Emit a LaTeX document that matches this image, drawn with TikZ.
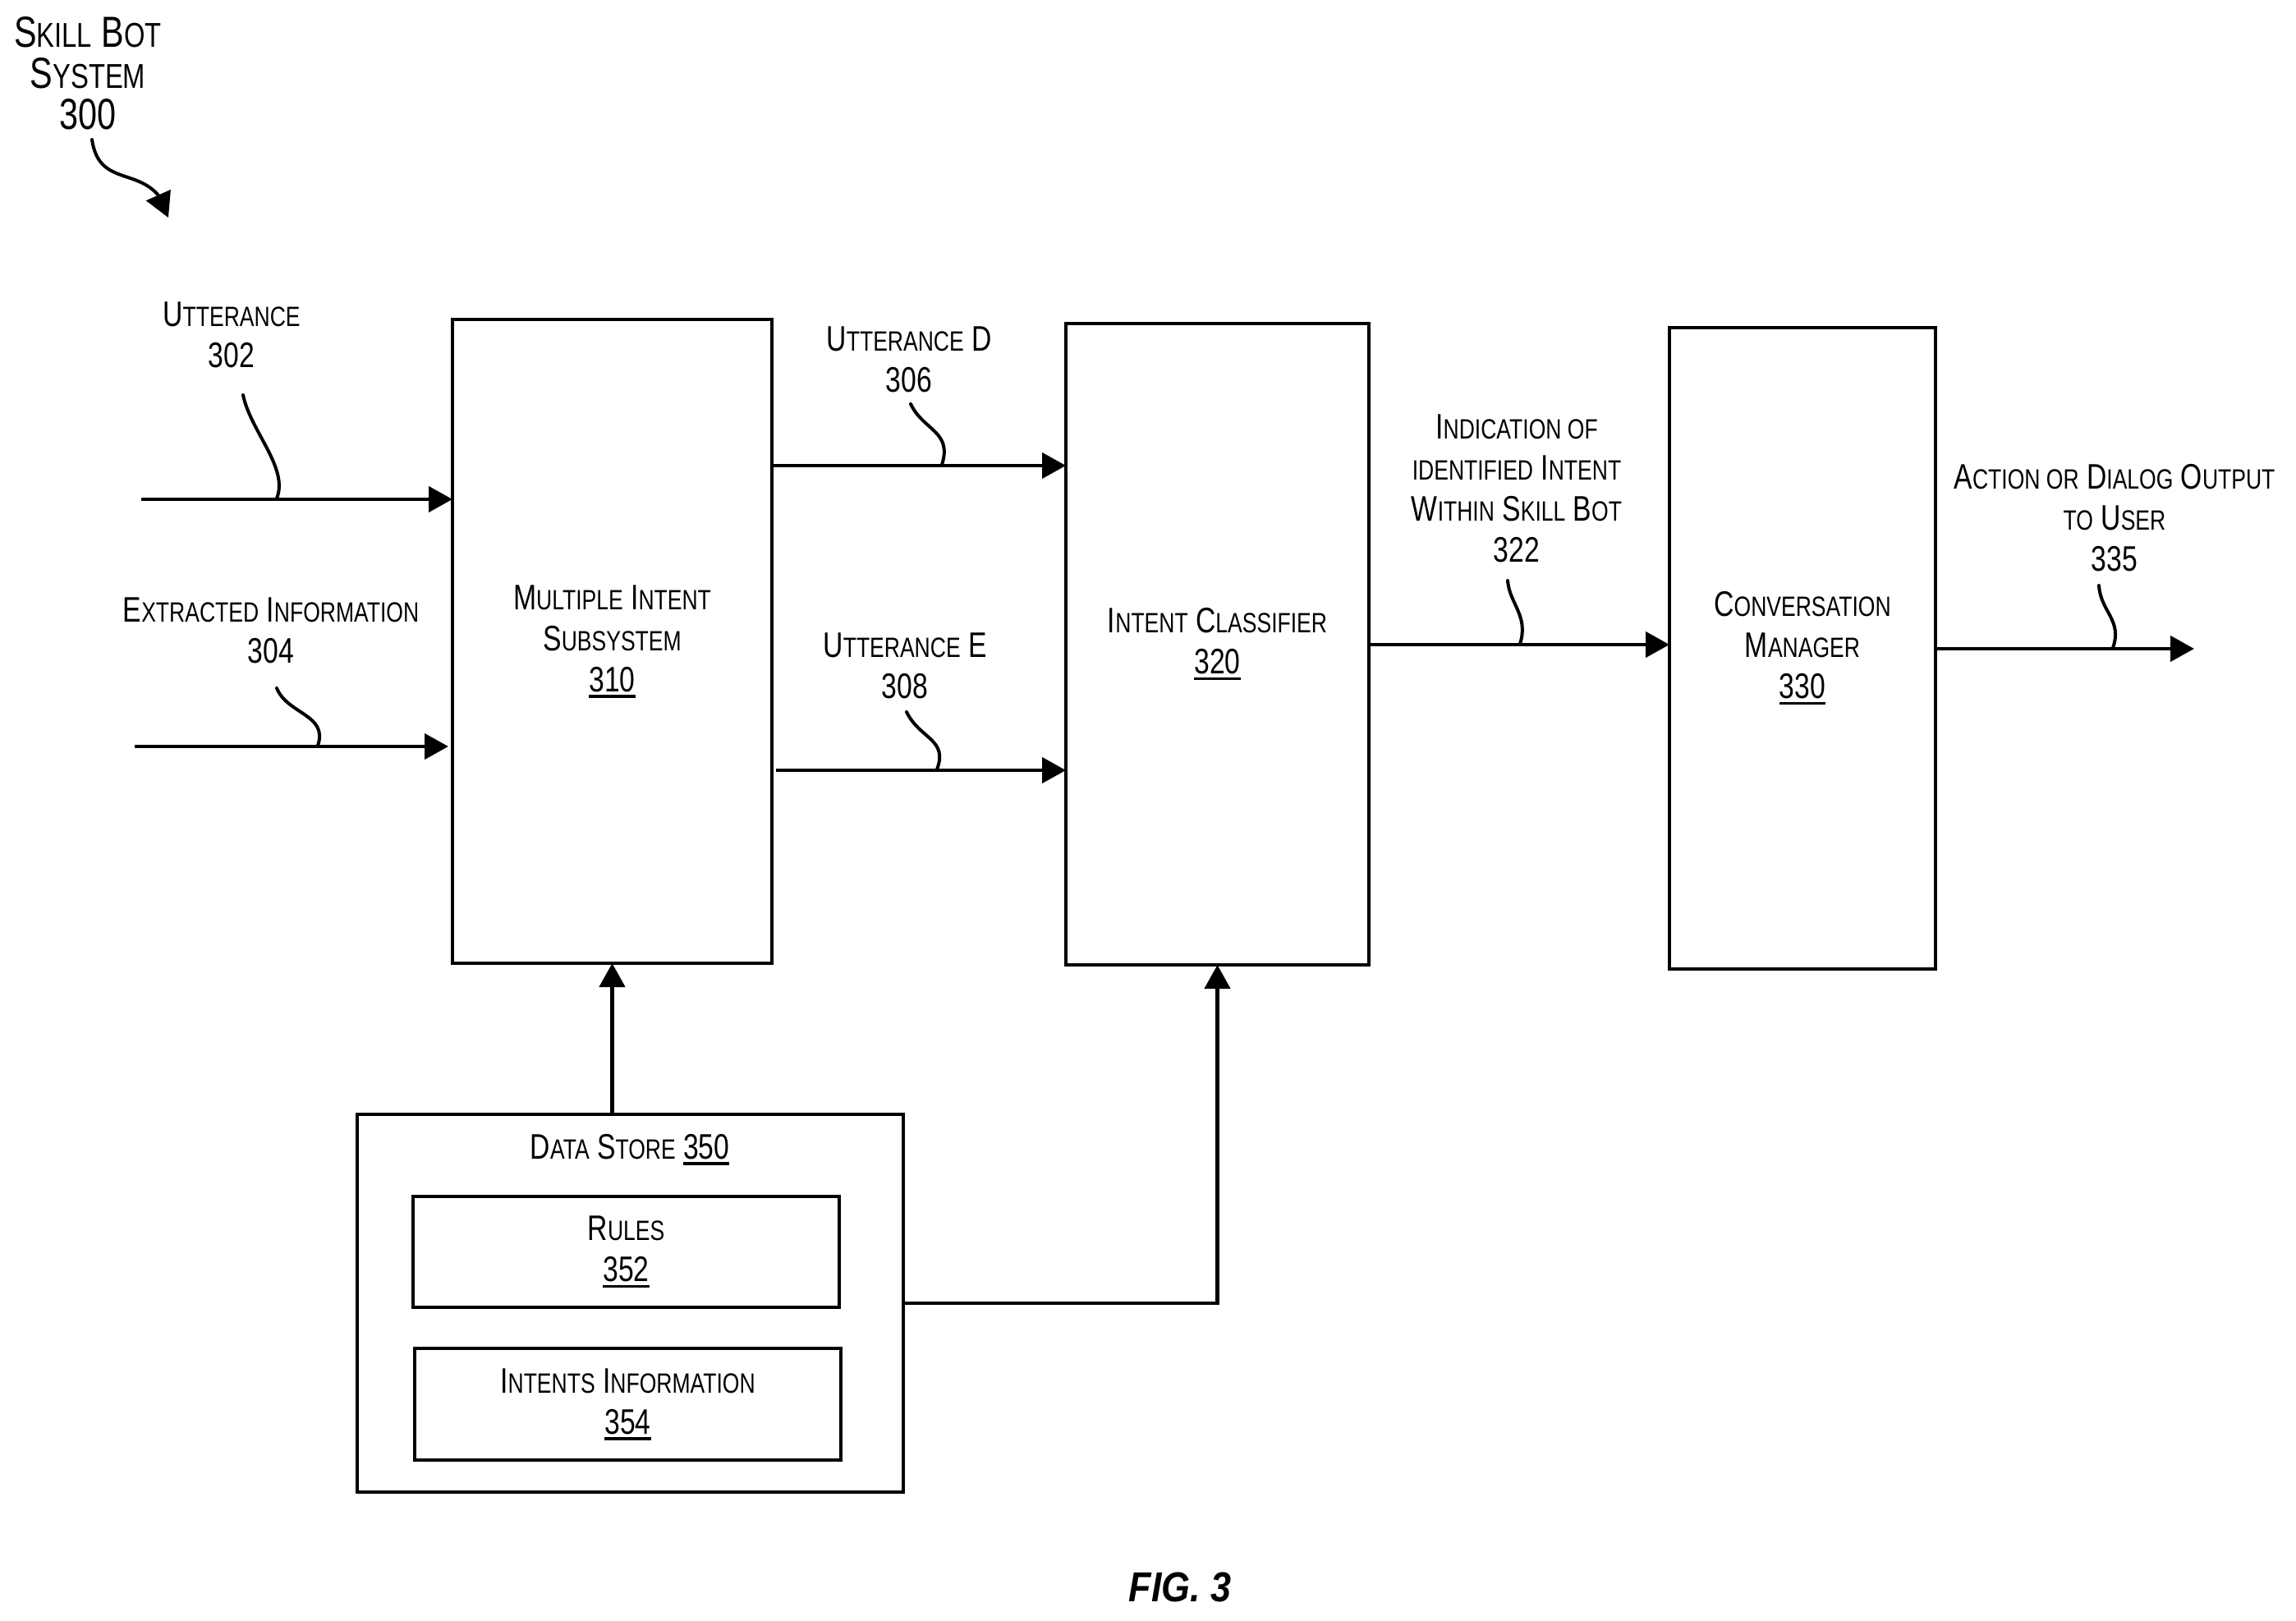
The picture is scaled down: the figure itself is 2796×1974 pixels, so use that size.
\documentclass[tikz,border=0pt]{standalone}
\usepackage{fontspec}
\usetikzlibrary{arrows.meta,calc}
\newfontfamily\patfont[FakeStretch=0.78]{Liberation Sans}
\newfontfamily\figfont[FakeStretch=0.88]{Liberation Sans}
\newcommand\sm[1]{{\fontsize{17}{25}\selectfont #1}}
\newcommand\smb[1]{{\fontsize{21}{25}\selectfont #1}}
\newcommand\ul[1]{\leavevmode\setbox0\hbox{#1}\rlap{\raisebox{-3.8pt}{\rule{\wd0}{1.7pt}}}\box0 }
\tikzset{
  lab/.style={font=\fontsize{21.6}{25}\selectfont\patfont, align=center, inner sep=0pt},
  biglab/.style={font=\fontsize{26.5}{25}\selectfont\patfont, align=center, inner sep=0pt},
  boxn/.style={lab, draw=black, line width=2.3pt, fill=white, outer sep=0pt},
  conn/.style={draw=black, line width=2.2pt, -{Triangle[length=14.5pt,width=15.5pt]}},
  plain/.style={draw=black, line width=2.2pt},
  lead/.style={draw=black, line width=2pt, line cap=round},
}
\begin{document}
\begin{tikzpicture}[x=0.5pt,y=-0.5pt]
\useasboundingbox (0,0) rectangle (2796,1974);
\fill[white] (0,0) rectangle (2796,1974);

% boxes
\node[boxn, minimum width=194.5pt, minimum height=392pt] (b310) at (745.5,781) {M\sm{ULTIPLE} I\sm{NTENT}\\S\sm{UBSYSTEM}\\\ul{310}};
\node[boxn, minimum width=184.5pt, minimum height=390.5pt] (b320) at (1482.5,784.5) {I\sm{NTENT} C\sm{LASSIFIER}\\\ul{320}};
\node[boxn, minimum width=162pt, minimum height=390.5pt] (b330) at (2195,789.5) {C\sm{ONVERSATION}\\M\sm{ANAGER}\\\ul{330}};
\node[boxn, minimum width=332.5pt, minimum height=230pt] (b350) at (767.5,1587) {};
\node[boxn, minimum width=259.5pt, minimum height=67.5pt] (b352) at (762.5,1524.5) {R\sm{ULES}\\\ul{352}};
\node[boxn, minimum width=259.5pt, minimum height=68pt] (b354) at (764.5,1710) {I\sm{NTENTS} I\sm{NFORMATION}\\\ul{354}};
\node[lab] (t350) at (767,1400) {D\sm{ATA} S\sm{TORE} \ul{350}};

% labels
\node[biglab] (t300) at (107,89) {S\smb{KILL} B\smb{OT}\\S\smb{YSTEM}\\300};
\node[lab] (t302) at (282,408) {U\sm{TTERANCE}\\302};
\node[lab] (t304) at (330,768) {E\sm{XTRACTED} I\sm{NFORMATION}\\304};
\node[lab] (t306) at (1107,438) {U\sm{TTERANCE} D\\306};
\node[lab] (t308) at (1102,811) {U\sm{TTERANCE} E\\308};
\node[lab] (t322) at (1847,595) {I\sm{NDICATION OF}\\\sm{IDENTIFIED} I\sm{NTENT}\\W\sm{ITHIN} S\sm{KILL} B\sm{OT}\\322};
\node[lab] (t335) at (2575,631) {A\sm{CTION OR} D\sm{IALOG} O\sm{UTPUT}\\\sm{TO} U\sm{SER}\\335};
\node[font=\fontsize{25.5}{30}\selectfont\figfont\bfseries\itshape, inner sep=0pt] (fig) at (1437,1933) {FIG. 3};

% free ends and levels
\coordinate (in302) at (172,608);
\coordinate (in304) at (164,909);
\coordinate (lvD) at (0,567);
\coordinate (lvE) at (0,938);
\coordinate (lv322) at (0,785);
\coordinate (lv335) at (0,790);
\coordinate (lv350) at (0,1587);
\coordinate (out335) at (2672,790);
\coordinate (startE) at (945,938);
\coordinate (tip310) at (546,909);

% connectors
\draw[conn] (in302) -- (b310.west |- in302);
\draw[conn] (in304) -- (tip310);
\draw[conn] (b310.east |- lvD) -- (b320.west |- lvD);
\draw[conn] (startE) -- (b320.west |- lvE);
\draw[conn] (b320.east |- lv322) -- (b330.west |- lv322);
\draw[conn] (b330.east |- lv335) -- (out335);
\draw[conn] (b350.north -| b310.south) -- (b310.south);
\draw[conn] (b350.east |- lv350) -| (b320.south);

% lead lines
\coordinate (s300a) at (112,170);
\coordinate (s300b) at (205,265);
\draw[lead, -{Triangle[length=15pt,width=16pt]}] (s300a) .. controls (120,225) and (165,205) .. (193,238) -- (s300b);
\coordinate (s302a) at (296,481);
\coordinate (s302b) at (337,607);
\draw[lead] (s302a) .. controls (305,525) and (352,570) .. (s302b);
\coordinate (s304a) at (337,838);
\coordinate (s304b) at (387,908);
\draw[lead] (s304a) .. controls (350,870) and (400,870) .. (s304b);
\coordinate (s306a) at (1109,492);
\coordinate (s306b) at (1147,566);
\draw[lead] (s306a) .. controls (1125,525) and (1160,525) .. (s306b);
\coordinate (s308a) at (1104,867);
\coordinate (s308b) at (1141,937);
\draw[lead] (s308a) .. controls (1120,900) and (1155,900) .. (s308b);
\coordinate (s322a) at (1836,707);
\coordinate (s322b) at (1851,784);
\draw[lead] (s322a) .. controls (1838,735) and (1862,750) .. (s322b);
\coordinate (s335a) at (2556,713);
\coordinate (s335b) at (2573,789);
\draw[lead] (s335a) .. controls (2558,745) and (2585,755) .. (s335b);
\end{tikzpicture}
\end{document}
